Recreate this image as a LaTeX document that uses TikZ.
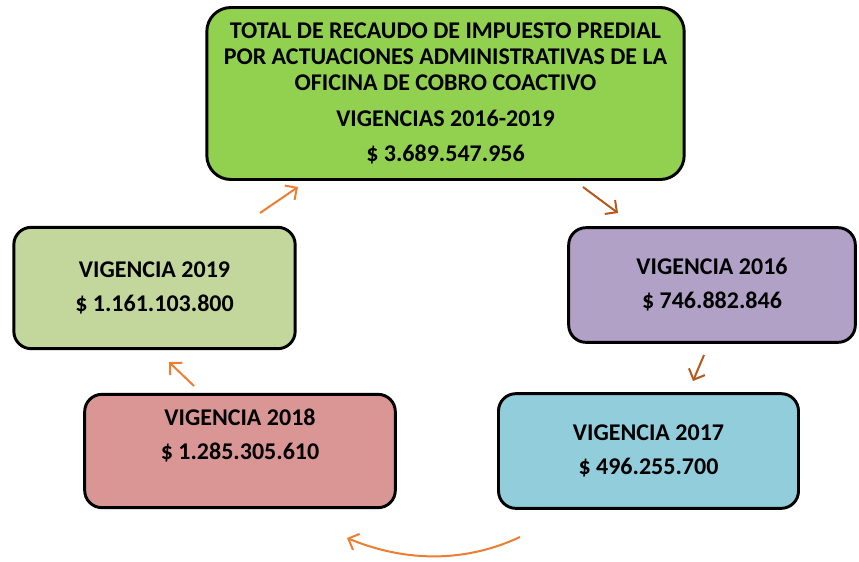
\documentclass[tikz,border=0pt]{standalone}
\usepackage{fontspec}
\setmainfont{Carlito}
\usetikzlibrary{arrows.meta, calc}
\definecolor{totalgreen}{HTML}{92D050}
\definecolor{lilac}{HTML}{B2A1C7}
\definecolor{skyblue}{HTML}{92CDDC}
\definecolor{rosered}{HTML}{D99694}
\definecolor{olivegreen}{HTML}{C3D69B}
\definecolor{arrorange}{HTML}{ED7D31}
\definecolor{arrbrown}{HTML}{B4581E}
\tikzset{
  block/.style={rectangle, draw, line width=2.2pt, rounded corners=13pt, align=center,
    font=\fontsize{18}{19.5}\selectfont\bfseries, inner sep=0pt},
  total/.style={block, rounded corners=18pt, fill=totalgreen,
    minimum width=358pt, minimum height=129pt},
  lbl/.style={align=center, font=\fontsize{18}{19.5}\selectfont\bfseries},
  arr/.style={-{Straight Barb[length=6.5pt, width=13pt]}, line width=1.5pt, draw=arrorange},
  brownarr/.style={arr, draw=arrbrown},
}

\begin{document}
\begin{tikzpicture}[x=0.75pt, y=-0.75pt]
  \useasboundingbox (0,0) rectangle (859,561);

  \node[total] (tot) at (445.5,93.5) {TOTAL DE RECAUDO DE IMPUESTO PREDIAL\\
    POR ACTUACIONES ADMINISTRATIVAS DE LA\\
    OFICINA DE COBRO COACTIVO\\[7.5pt]
    VIGENCIAS 2016-2019\\[6.5pt]
    \$ 3.689.547.956};
  \node[block, fill=lilac, minimum width=215pt, minimum height=86pt] (v16) at (712,285)
    {VIGENCIA 2016\\[6pt] \$ 746.882.846};
  \node[block, fill=skyblue, minimum width=225pt, minimum height=86pt] (v17) at (648.5,451)
    {VIGENCIA 2017\\[6pt] \$ 496.255.700};
  \node[block, fill=rosered, minimum width=233pt, minimum height=85pt] (v18) at (240,451)
    [label={[lbl, yshift=12pt]center:VIGENCIA 2018\\[6pt] \$ 1.285.305.610}] {};
  \node[block, fill=olivegreen, minimum width=211pt, minimum height=91pt] (v19) at (154.5,288)
    {VIGENCIA 2019\\[6pt] \$ 1.161.103.800};

  % arrow ends between the boxes
  \coordinate (totOut) at (583,187);
  \coordinate (v16In) at (618,213);
  \coordinate (v16Out) at (704,355);
  \coordinate (v17In) at (693,381);
  \coordinate (v17Out) at (520,537);
  \coordinate (v18In) at (347,538);
  \coordinate (v18Out) at (194,386);
  \coordinate (v19In) at (169,362);
  \coordinate (v19Out) at (260,213);
  \coordinate (totIn) at (298,187);

  \draw[brownarr] (totOut) -- (v16In);
  \draw[brownarr] (v16Out) -- (v17In);
  \draw[arr] (v17Out) .. controls (460,565) and (400,560) .. (v18In);
  \draw[arr] (v18Out) -- (v19In);
  \draw[arr] (v19Out) -- (totIn);
\end{tikzpicture}
\end{document}
